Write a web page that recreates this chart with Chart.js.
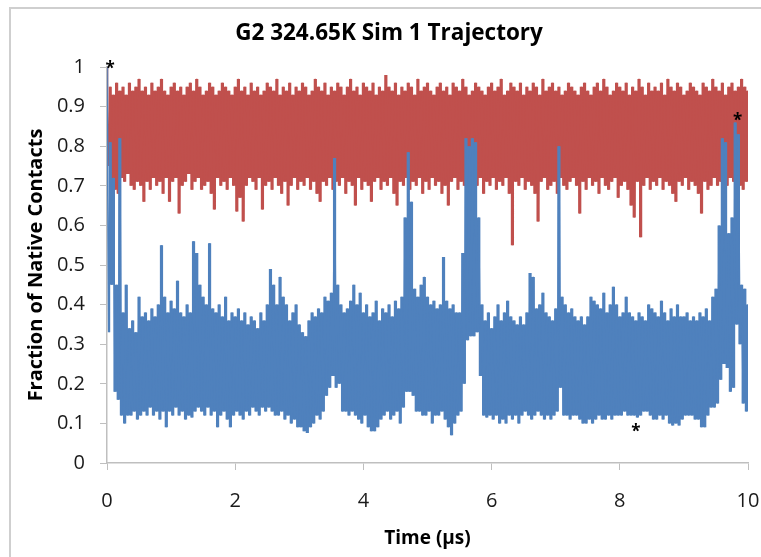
<!DOCTYPE html>
<html>
<head>
<meta charset="utf-8">
<script src="https://cdn.jsdelivr.net/npm/chart.js@4/dist/chart.umd.min.js"></script>
<style>
  html, body { margin: 0; padding: 0; background: #fff; }
  #frame { position: absolute; left: 9px; top: 7px; width: 800px; height: 600px;
           border-left: 2px solid #cfcfcf; border-top: 2px solid #cfcfcf; }
  #c { position: absolute; left: 0; top: 0; }
</style>
</head>
<body>
<div id="frame"></div>
<canvas id="c" width="761" height="557"></canvas>
<script>
// sampling interval of the trajectory (µs); each slot has a high and a low reading
const timeStep = 0.05;

// red: native contacts (upper band)
const redHigh = [
  1.00,
  0.95, 0.93, 0.96, 0.94, 0.95, 0.93, 0.96, 0.94, 0.95, 0.97,
  0.94, 0.95, 0.93, 0.96, 0.94, 0.95, 0.97, 0.94, 0.93, 0.95,
  0.96, 0.94, 0.95, 0.93, 0.95, 0.96, 0.94, 0.97, 0.95, 0.93,
  0.94, 0.96, 0.95, 0.93, 0.94, 0.96, 0.95, 0.94, 0.93, 0.95,
  0.97, 0.94, 0.95, 0.93, 0.96, 0.94, 0.95, 0.93, 0.94, 0.96,
  0.95, 0.94, 0.97, 0.93, 0.95, 0.94, 0.96, 0.93, 0.95, 0.94,
  0.96, 0.95, 0.93, 0.94, 0.97, 0.95, 0.94, 0.96, 0.93, 0.95,
  0.94, 0.96, 0.95, 0.93, 0.95, 0.97, 0.94, 0.95, 0.93, 0.96,
  0.95, 0.94, 0.96, 0.93, 0.95, 0.94, 0.98, 0.95, 0.94, 0.96,
  0.93, 0.95, 0.94, 0.96, 0.95, 0.93, 0.97, 0.94, 0.95, 0.96,
  0.94, 0.93, 0.95, 0.96, 0.94, 0.95, 0.93, 0.96, 0.95, 0.94,
  0.97, 0.95, 0.93, 0.94, 0.96, 0.95, 0.94, 0.93, 0.95, 0.96,
  0.94, 0.95, 0.97, 0.93, 0.94, 0.96, 0.95, 0.94, 0.96, 0.93,
  0.95, 0.94, 0.96, 0.95, 0.93, 0.97, 0.94, 0.95, 0.96, 0.94,
  0.95, 0.93, 0.94, 0.96, 0.95, 0.94, 0.93, 0.95, 0.96, 0.94,
  0.93, 0.95, 0.96, 0.94, 0.97, 0.95, 0.93, 0.94, 0.96, 0.95,
  0.94, 0.96, 0.93, 0.95, 0.94, 0.97, 0.95, 0.93, 0.96, 0.94,
  0.95, 0.94, 0.96, 0.93, 0.97, 0.95, 0.94, 0.96, 0.95, 0.93,
  0.94, 0.96, 0.95, 0.94, 0.93, 0.96, 0.95, 0.94, 0.97, 0.95,
  0.94, 0.96, 0.93, 0.95, 0.96, 0.94, 0.95, 0.97, 0.95, 0.94
];
const redLow = [
  0.75,
  0.72, 0.69, 0.68, 0.72, 0.71, 0.73, 0.70, 0.69, 0.71, 0.70,
  0.66, 0.71, 0.69, 0.72, 0.70, 0.71, 0.68, 0.72, 0.66, 0.71,
  0.72, 0.63, 0.70, 0.71, 0.73, 0.69, 0.71, 0.72, 0.69, 0.70,
  0.71, 0.68, 0.64, 0.72, 0.70, 0.71, 0.69, 0.72, 0.70, 0.635,
  0.67, 0.61, 0.70, 0.72, 0.71, 0.69, 0.72, 0.64, 0.70, 0.71,
  0.69, 0.72, 0.70, 0.68, 0.71, 0.65, 0.70, 0.72, 0.69, 0.71,
  0.70, 0.72, 0.69, 0.71, 0.68, 0.66, 0.71, 0.70, 0.72, 0.69,
  0.71, 0.70, 0.72, 0.68, 0.71, 0.70, 0.65, 0.72, 0.69, 0.71,
  0.70, 0.66, 0.71, 0.72, 0.69, 0.71, 0.70, 0.72, 0.68, 0.65,
  0.71, 0.70, 0.72, 0.69, 0.71, 0.70, 0.72, 0.68, 0.71, 0.69,
  0.72, 0.70, 0.71, 0.68, 0.70, 0.65, 0.71, 0.72, 0.69, 0.71,
  0.70, 0.72, 0.71, 0.69, 0.70, 0.72, 0.68, 0.71, 0.70, 0.72,
  0.69, 0.71, 0.70, 0.72, 0.68, 0.55, 0.71, 0.70, 0.72, 0.69,
  0.71, 0.70, 0.68, 0.61, 0.71, 0.72, 0.69, 0.70, 0.71, 0.68,
  0.72, 0.70, 0.69, 0.71, 0.72, 0.70, 0.63, 0.71, 0.69, 0.72,
  0.70, 0.71, 0.68, 0.72, 0.70, 0.69, 0.71, 0.72, 0.67, 0.70,
  0.71, 0.69, 0.65, 0.62, 0.71, 0.57, 0.70, 0.72, 0.69, 0.71,
  0.70, 0.72, 0.69, 0.71, 0.70, 0.68, 0.66, 0.71, 0.70, 0.72,
  0.69, 0.71, 0.70, 0.68, 0.63, 0.71, 0.69, 0.70, 0.72, 0.70,
  0.71, 0.69, 0.70, 0.72, 0.71, 0.73, 0.70, 0.69, 0.71, 0.68
];

// blue: non-native contacts (lower band)
const blueHigh = [
  1.00,
  0.81, 0.72, 0.45, 0.82, 0.38, 0.45, 0.34, 0.36, 0.33, 0.42,
  0.37, 0.38, 0.36, 0.39, 0.37, 0.40, 0.55, 0.42, 0.38, 0.41,
  0.39, 0.46, 0.38, 0.37, 0.40, 0.38, 0.56, 0.53, 0.45, 0.42,
  0.40, 0.555, 0.39, 0.38, 0.40, 0.37, 0.42, 0.36, 0.38, 0.37,
  0.39, 0.36, 0.38, 0.35, 0.37, 0.36, 0.34, 0.38, 0.36, 0.40,
  0.49, 0.45, 0.40, 0.47, 0.42, 0.40, 0.36, 0.38, 0.40, 0.35,
  0.33, 0.32, 0.36, 0.38, 0.37, 0.39, 0.38, 0.42, 0.41, 0.43,
  0.77, 0.45, 0.40, 0.38, 0.39, 0.41, 0.45, 0.40, 0.43, 0.38,
  0.40, 0.37, 0.38, 0.41, 0.36, 0.39, 0.38, 0.40, 0.37, 0.41,
  0.39, 0.42, 0.62, 0.785, 0.66, 0.44, 0.42, 0.45, 0.47, 0.42,
  0.40, 0.41, 0.39, 0.40, 0.52, 0.41, 0.39, 0.40, 0.38, 0.38,
  0.53, 0.82, 0.80, 0.82, 0.81, 0.62, 0.40, 0.36, 0.38, 0.34,
  0.37, 0.40, 0.36, 0.38, 0.41, 0.37, 0.36, 0.35, 0.37, 0.35,
  0.38, 0.48, 0.47, 0.39, 0.40, 0.43, 0.38, 0.37, 0.36, 0.39,
  0.80, 0.42, 0.40, 0.38, 0.39, 0.37, 0.36, 0.37, 0.35, 0.37,
  0.42, 0.41, 0.40, 0.39, 0.43, 0.38, 0.40, 0.445, 0.40, 0.37,
  0.38, 0.42, 0.38, 0.37, 0.36, 0.38, 0.37, 0.36, 0.40, 0.39,
  0.38, 0.37, 0.41, 0.38, 0.36, 0.39, 0.37, 0.40, 0.37, 0.37,
  0.38, 0.36, 0.37, 0.36, 0.38, 0.37, 0.39, 0.36, 0.42, 0.44,
  0.60, 0.82, 0.81, 0.58, 0.62, 0.86, 0.83, 0.45, 0.44, 0.40
];
const blueLow = [
  0.33,
  0.45, 0.18, 0.16, 0.12, 0.10, 0.12, 0.12, 0.13, 0.11, 0.12,
  0.13, 0.12, 0.14, 0.12, 0.13, 0.11, 0.13, 0.09, 0.13, 0.12,
  0.14, 0.12, 0.13, 0.11, 0.12, 0.115, 0.13, 0.14, 0.13, 0.12,
  0.14, 0.12, 0.13, 0.09, 0.12, 0.13, 0.11, 0.09, 0.12, 0.13,
  0.12, 0.11, 0.13, 0.12, 0.14, 0.13, 0.12, 0.14, 0.13, 0.14,
  0.13, 0.12, 0.12, 0.13, 0.11, 0.12, 0.10, 0.11, 0.09, 0.09,
  0.08, 0.076, 0.09, 0.10, 0.12, 0.11, 0.13, 0.17, 0.19, 0.22,
  0.19, 0.20, 0.13, 0.13, 0.12, 0.13, 0.12, 0.11, 0.10, 0.12,
  0.09, 0.08, 0.08, 0.09, 0.11, 0.12, 0.13, 0.11, 0.12, 0.13,
  0.10, 0.14, 0.18, 0.18, 0.17, 0.13, 0.13, 0.12, 0.12, 0.13,
  0.10, 0.12, 0.12, 0.13, 0.11, 0.09, 0.07, 0.10, 0.12, 0.13,
  0.20, 0.31, 0.32, 0.32, 0.33, 0.22, 0.12, 0.115, 0.12, 0.11,
  0.12, 0.10, 0.11, 0.10, 0.12, 0.11, 0.12, 0.10, 0.12, 0.13,
  0.12, 0.11, 0.12, 0.13, 0.12, 0.11, 0.12, 0.11, 0.12, 0.13,
  0.19, 0.12, 0.12, 0.11, 0.12, 0.12, 0.11, 0.10, 0.10, 0.11,
  0.10, 0.11, 0.12, 0.11, 0.11, 0.12, 0.11, 0.12, 0.12, 0.12,
  0.13, 0.12, 0.12, 0.12, 0.115, 0.12, 0.13, 0.13, 0.12, 0.11,
  0.11, 0.12, 0.11, 0.12, 0.10, 0.095, 0.10, 0.095, 0.11, 0.12,
  0.12, 0.12, 0.11, 0.11, 0.09, 0.09, 0.12, 0.14, 0.14, 0.15,
  0.21, 0.25, 0.24, 0.18, 0.19, 0.35, 0.30, 0.15, 0.13, 0.15
];

// asterisk markers placed on the figure
const starTime = [0.05, 9.84, 8.25];
const starValue = [1.005, 0.874, 0.088];

const xTicks = [0, 2, 4, 6, 8, 10];

const RED = '#C0504D';
const BLUE = '#4F81BD';
const AXIS = '#bfbfbf';

// interleave high/low readings of each slot into one zigzag trace
function trace(high, low) {
  const pts = [];
  for (let i = 0; i < high.length; i++) {
    const t = i * timeStep;
    pts.push({ x: t, y: high[i] });
    pts.push({ x: t + timeStep / 2, y: low[i] });
  }
  return pts;
}

// one edge of the band (high or low readings) for the solid fill underneath
function edge(vals, shift) {
  return vals.map((v, i) => ({ x: i * timeStep + shift, y: v }));
}

function band(color, high, low, order) {
  return [
    { data: trace(high, low), borderColor: color, borderWidth: 1.5,
      pointRadius: 0, fill: false, order: order },
    { data: edge(high, 0), borderWidth: 0, borderColor: color, backgroundColor: color,
      pointRadius: 0, stepped: 'middle', fill: '+1', order: order + 1 },
    { data: edge(low, timeStep / 2), borderWidth: 0, borderColor: color,
      pointRadius: 0, stepped: 'middle', fill: false, order: order + 1 }
  ];
}

const stars = {
  id: 'stars',
  afterDatasetsDraw(chart) {
    const { ctx, scales: { x, y } } = chart;
    ctx.save();
    ctx.fillStyle = '#000';
    ctx.font = 'bold 17px "Open Sans", sans-serif';
    ctx.textAlign = 'center';
    ctx.textBaseline = 'alphabetic';
    for (let i = 0; i < starTime.length; i++) {
      ctx.fillText('*', x.getPixelForValue(starTime[i]), y.getPixelForValue(starValue[i]) + 9);
    }
    ctx.restore();
  }
};

new Chart(document.getElementById('c'), {
  type: 'line',
  data: {
    datasets: [
      ...band(BLUE, blueHigh, blueLow, 0),
      ...band(RED, redHigh, redLow, 2)
    ]
  },
  options: {
    responsive: false,
    animation: false,
    devicePixelRatio: 1,
    layout: { padding: { left: 30, right: 13, top: 0, bottom: 0 } },
    plugins: {
      legend: { display: false },
      tooltip: { enabled: false },
      title: {
        display: true,
        text: 'G2 324.65K Sim 1 Trajectory',
        color: '#000',
        font: { family: 'Open Sans', size: 22.5, weight: 'bold' },
        padding: { top: 20, bottom: 20 }
      }
    },
    scales: {
      x: {
        type: 'linear', min: 0, max: 10,
        afterBuildTicks: s => { s.ticks = xTicks.map(v => ({ value: v })); },
        afterFit: s => { s.height = 94; s.paddingLeft = 0; s.paddingRight = 0; },
        grid: { drawOnChartArea: false, drawTicks: true, tickLength: 7, color: AXIS },
        border: { color: AXIS, width: 1.5 },
        ticks: { color: '#1a1a1a', padding: 19, maxRotation: 0,
                 font: { family: 'Open Sans', size: 20 } },
        title: { display: true, text: 'Time (µs)', color: '#000',
                 font: { family: 'Open Sans', size: 19, weight: 'bold' },
                 padding: { top: 0, bottom: 7 } }
      },
      y: {
        min: 0, max: 1,
        afterFit: s => { s.width = 77; },
        grid: { drawOnChartArea: false, drawTicks: true, tickLength: 7, color: AXIS },
        border: { color: AXIS, width: 1.5 },
        ticks: { stepSize: 0.1, color: '#1a1a1a', padding: 15,
                 font: { family: 'Open Sans', size: 20 },
                 callback: v => Math.round(v * 10) / 10 },
        title: { display: true, text: 'Fraction of Native Contacts', color: '#000',
                 font: { family: 'Open Sans', size: 20, weight: 'bold' },
                 padding: { top: -6, bottom: 0 } }
      }
    }
  },
  plugins: [stars]
});
</script>
</body>
</html>
